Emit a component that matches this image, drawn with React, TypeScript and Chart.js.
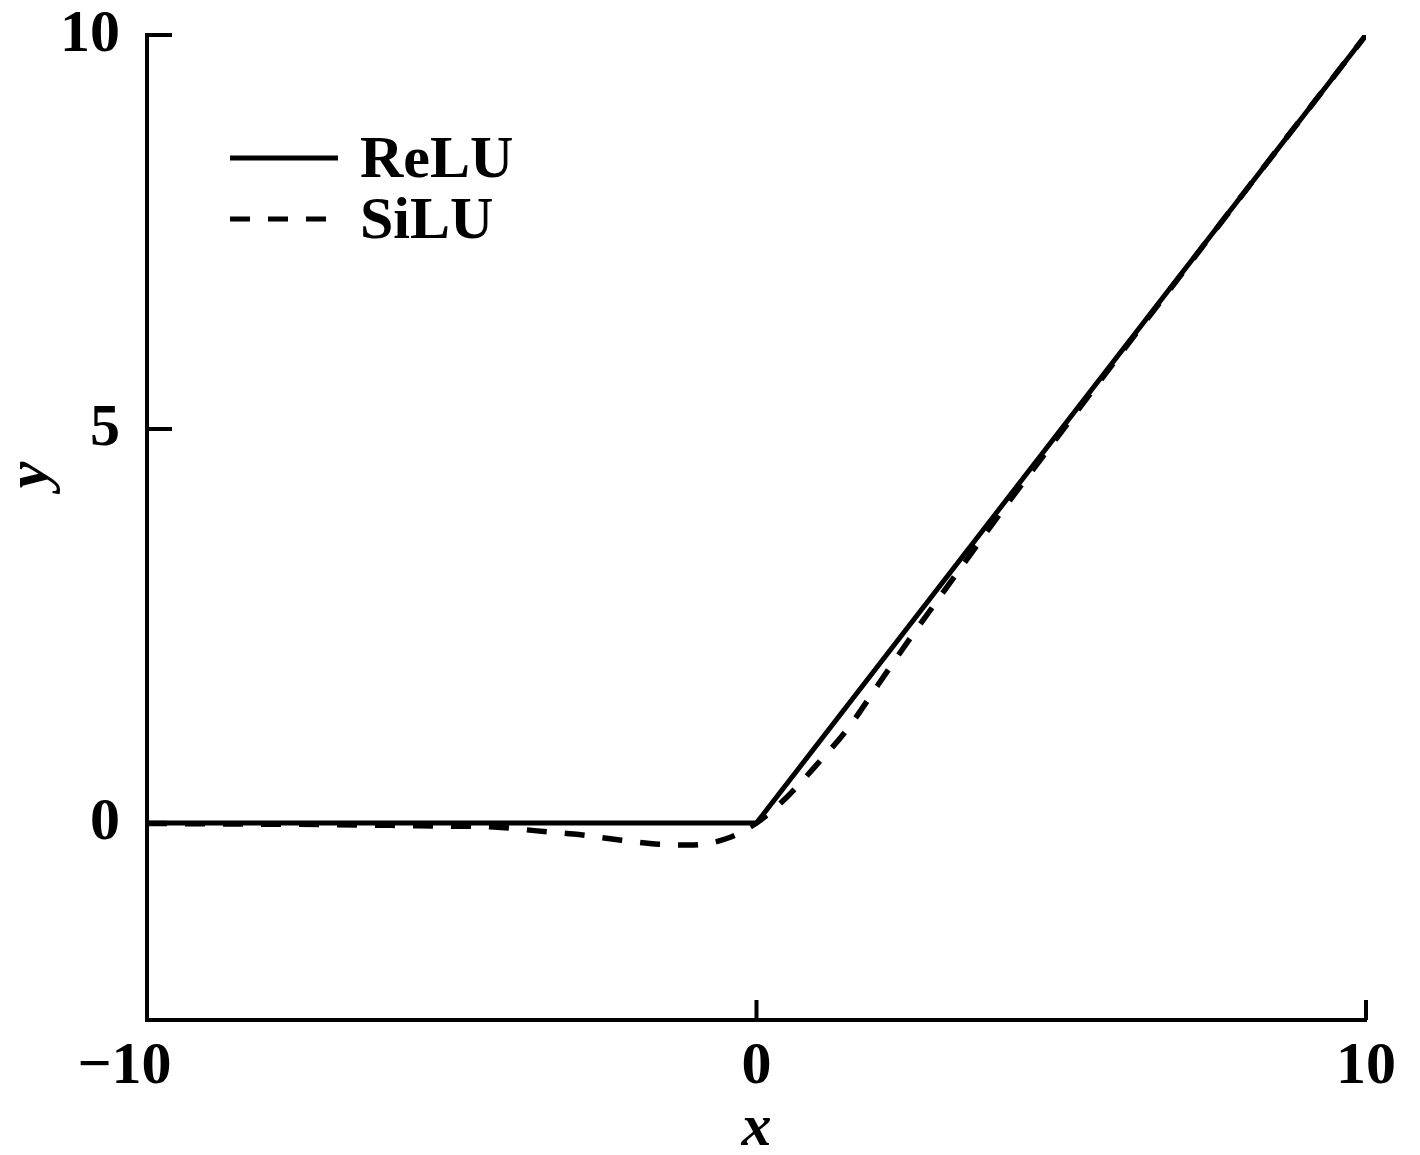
import React, { useEffect, useRef } from "react";
import { Chart, registerables } from "chart.js";

Chart.register(...registerables);

// ---- data ----
const seriesLabels = ["ReLU", "SiLU"];
const reluX = [-10, 0, 10];
const reluY = [0, 0, 10];
const siluX = [-10, -9, -8, -7, -6, -5, -4.3, -3.6, -3, -2.4, -1.75, -1.1, -0.5, 0, 0.5, 1, 1.5, 2, 2.5, 3, 4, 5, 6, 7, 8, 10];
const siluY = [-0.005, -0.01, -0.015, -0.02, -0.03, -0.04, -0.05, -0.1, -0.14, -0.2, -0.26, -0.28, -0.2, 0, 0.33, 0.75, 1.2, 1.76, 2.32, 2.86, 3.93, 4.96, 5.98, 6.99, 8.0, 10];
const xTicks = [-10, 0, 10];
const xTickLabels = ["−10   ", "0", "10"];
const yTicks = [0, 5, 10];
const yTickLabels = ["0", "5", "10"];
const xTitle = "x";
const yTitle = "       y";

const FONT = "'Liberation Serif', 'Times New Roman', serif";

const decorPlugin = {
  id: "decor",
  afterDraw(chart: any) {
    const { ctx, chartArea, scales } = chart;
    ctx.save();
    ctx.strokeStyle = "#000";
    ctx.lineCap = "butt";
    ctx.lineWidth = 4;
    ctx.setLineDash([]);
    // inward tick marks
    yTicks.forEach((v) => {
      const py = scales.y.getPixelForValue(v);
      ctx.beginPath();
      ctx.moveTo(chartArea.left, py);
      ctx.lineTo(chartArea.left + 25, py);
      ctx.stroke();
    });
    xTicks.forEach((v) => {
      const px = scales.x.getPixelForValue(v);
      ctx.beginPath();
      ctx.moveTo(px, chartArea.bottom);
      ctx.lineTo(px, chartArea.bottom - 20);
      ctx.stroke();
    });
    // legend
    const lx = chartArea.left + 83;
    const lens = [108, 96];
    chart.data.datasets.forEach((ds: any, i: number) => {
      const cy = chartArea.top + 123 + i * 61;
      ctx.lineWidth = 5;
      ctx.strokeStyle = ds.borderColor;
      ctx.setLineDash(ds.borderDash || []);
      ctx.beginPath();
      ctx.moveTo(lx, cy);
      ctx.lineTo(lx + lens[i], cy);
      ctx.stroke();
      ctx.setLineDash([]);
      ctx.fillStyle = "#000";
      ctx.font = `bold 60px ${FONT}`;
      ctx.textBaseline = "alphabetic";
      ctx.textAlign = "left";
      ctx.fillText(ds.label, lx + 130, cy + 19);
    });
    ctx.restore();
  },
};

export default function App() {
  const ref = useRef<HTMLCanvasElement | null>(null);
  useEffect(() => {
    if (!ref.current) return;
    const chart = new Chart(ref.current, {
      type: "line",
      data: {
        datasets: [
          {
            label: seriesLabels[0],
            data: reluX.map((x, i) => ({ x, y: reluY[i] })),
            borderColor: "#000",
            borderWidth: 5,
            pointRadius: 0,
            tension: 0,
            borderJoinStyle: "round",
          },
          {
            label: seriesLabels[1],
            data: siluX.map((x, i) => ({ x, y: siluY[i] })),
            borderColor: "#000",
            borderWidth: 5.5,
            borderDash: [20, 18],
            pointRadius: 0,
            cubicInterpolationMode: "monotone",
          },
        ],
      },
      options: {
        animation: false,
        responsive: true,
        maintainAspectRatio: false,
        layout: { padding: { top: 35, right: 54, left: 0, bottom: 0 } },
        plugins: { legend: { display: false }, tooltip: { enabled: false } },
        scales: {
          x: {
            type: "linear",
            min: -10,
            max: 10,
            afterBuildTicks: (s: any) => {
              s.ticks = xTicks.map((v) => ({ value: v }));
            },
            afterFit: (s: any) => {
              s.height = 135;
              s.paddingLeft = 0;
              s.paddingRight = 0;
              s.paddingTop = 0;
              s.paddingBottom = 0;
            },
            grid: { drawOnChartArea: false, drawTicks: false },
            border: { display: true, color: "#000", width: 4 },
            ticks: {
              color: "#000",
              padding: 17,
              maxRotation: 0,
              autoSkip: false,
              font: { family: FONT, size: 60, weight: "bold", lineHeight: 1 },
              callback: (v: any) => {
                const i = xTicks.indexOf(Number(v));
                return i >= 0 ? xTickLabels[i] : "";
              },
            },
            title: {
              display: true,
              text: xTitle,
              color: "#000",
              font: { family: FONT, size: 60, weight: "bold", style: "italic", lineHeight: 0.85 },
              padding: { top: 0, bottom: 0 },
            },
          },
          y: {
            type: "linear",
            min: -2.5,
            max: 10,
            afterBuildTicks: (s: any) => {
              s.ticks = yTicks.map((v) => ({ value: v }));
            },
            afterFit: (s: any) => {
              s.width = 147;
              s.paddingLeft = 0;
              s.paddingRight = 0;
              s.paddingTop = 0;
              s.paddingBottom = 0;
            },
            grid: { drawOnChartArea: false, drawTicks: false },
            border: { display: true, color: "#000", width: 4 },
            ticks: {
              color: "#000",
              padding: 27,
              autoSkip: false,
              font: { family: FONT, size: 60, weight: "bold", lineHeight: 1 },
              callback: (v: any) => {
                const i = yTicks.indexOf(Number(v));
                return i >= 0 ? yTickLabels[i] : "";
              },
            },
            title: {
              display: true,
              text: yTitle,
              color: "#000",
              font: { family: FONT, size: 60, weight: "bold", style: "italic", lineHeight: 0.9 },
              padding: { top: 4, bottom: 0 },
            },
          },
        },
      },
      plugins: [decorPlugin],
    } as any);
    return () => chart.destroy();
  }, []);
  return (
    <div style={{ position: "fixed", left: 0, top: 0, width: 1420, height: 1155, background: "#fff" }}>
      <canvas ref={ref} />
    </div>
  );
}
